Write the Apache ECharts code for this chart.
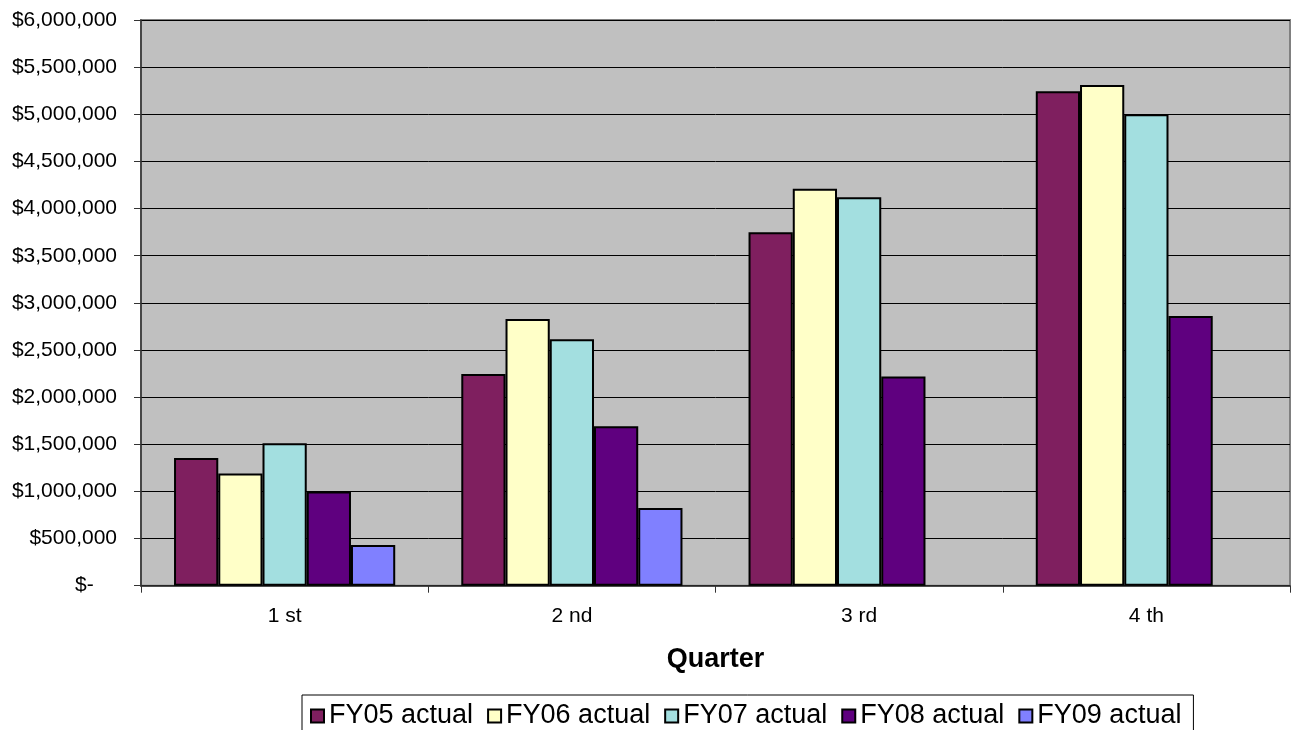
<!DOCTYPE html>
<html>
<head>
<meta charset="utf-8">
<script src="https://cdn.jsdelivr.net/npm/echarts@6/dist/echarts.min.js"></script>
<style>
html,body{margin:0;padding:0;background:#fff;}
#chart{width:1291px;height:730px;}
</style>
</head>
<body>
<div id="chart"></div>
<script>
const categories = ['1 st', '2 nd', '3 rd', '4 th'];
const seriesNames = ['FY05 actual', 'FY06 actual', 'FY07 actual', 'FY08 actual', 'FY09 actual'];
const fy05 = [1355000, 2245000, 3750000, 5245000];
const fy06 = [1190000, 2830000, 4210000, 5310000];
const fy07 = [1510000, 2615000, 4120000, 5000000];
const fy08 = [1000000, 1690000, 2220000, 2860000];
const fy09 = [431000, 825000, null, null];
const colors = ['#7F1F5F', '#FFFFC8', '#A3DFE0', '#5F007F', '#8080FF'];
const seriesData = [fy05, fy06, fy07, fy08, fy09];

const chart = echarts.init(document.getElementById('chart'));
const FONT = '"Liberation Sans", Arial, sans-serif';

chart.setOption({
  animation: false,
  backgroundColor: '#ffffff',
  grid: {
    left: 141, right: 1, top: 20, bottom: 144.3,
    show: true, backgroundColor: '#C0C0C0', borderColor: '#808080', borderWidth: 2
  },
  legend: {
    left: 302, top: 695,
    orient: 'horizontal',
    itemWidth: 13, itemHeight: 13, itemGap: 14,
    padding: [6, 12, 6, 8],
    borderColor: '#000', borderWidth: 1,
    backgroundColor: '#fff',
    icon: 'rect',
    textStyle: { fontFamily: FONT, fontSize: 27, color: '#000', lineHeight: 30 },
    data: seriesNames
  },
  xAxis: {
    type: 'category',
    data: categories,
    name: 'Quarter',
    nameLocation: 'middle',
    nameGap: 60,
    nameTextStyle: { fontFamily: FONT, fontSize: 27, fontWeight: 'bold', color: '#000' },
    axisLine: { show: true, lineStyle: { color: '#333', width: 1.5 } },
    axisTick: { show: true, alignWithLabel: false, length: 7, lineStyle: { color: '#333' } },
    axisLabel: { fontFamily: FONT, fontSize: 21, color: '#000', margin: 20 },
    splitLine: { show: false }
  },
  yAxis: {
    type: 'value',
    min: 0, max: 6000000, interval: 500000,
    axisLine: { show: true, lineStyle: { color: '#333', width: 1.5 } },
    axisTick: { show: true, length: 7, lineStyle: { color: '#333' } },
    axisLabel: {
      fontFamily: FONT, fontSize: 21, color: '#000', margin: 24,
      formatter: v => v === 0 ? '$-    ' : '$' + v.toLocaleString('en-US')
    },
    splitLine: { show: true, lineStyle: { color: '#000', width: 1 } }
  },
  series: seriesNames.map((n, i) => ({
    name: n,
    type: 'bar',
    data: seriesData[i],
    barGap: '0%',
    barCategoryGap: '23%',
    itemStyle: { color: colors[i], borderColor: '#000', borderWidth: 2 }
  }))
});
</script>
</body>
</html>
